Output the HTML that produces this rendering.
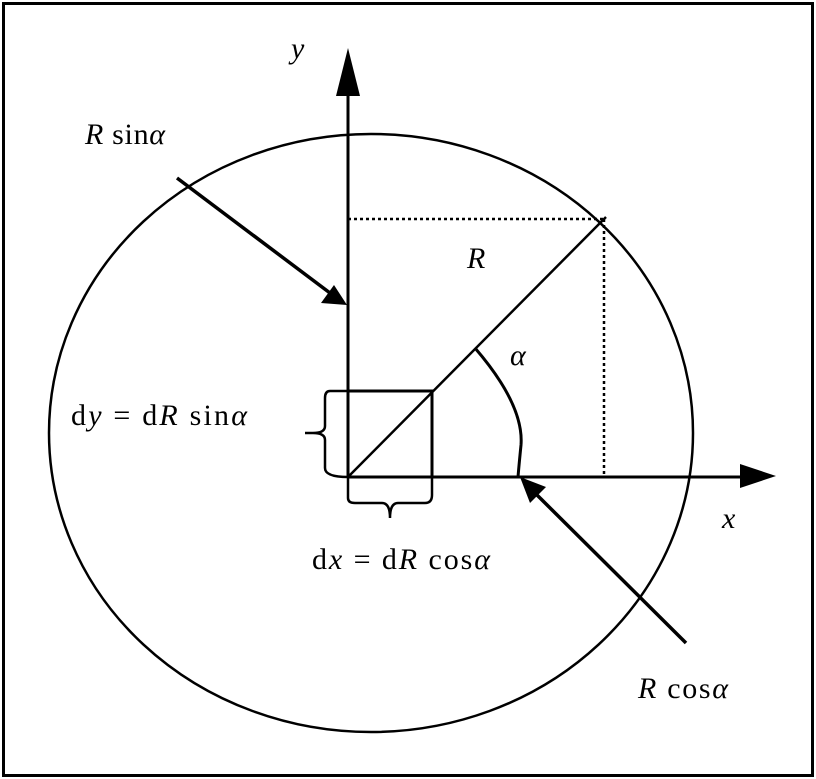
<!DOCTYPE html>
<html><head><style>
html,body{margin:0;padding:0;background:#fff;}
svg{display:block;}
text{font-family:"Liberation Serif",serif;font-size:30px;fill:#000;}
</style></head><body>
<svg width="816" height="779" viewBox="0 0 816 779">
<rect x="3.5" y="3.5" width="809" height="772" fill="none" stroke="#000" stroke-width="3"/>
<ellipse cx="371" cy="433" rx="322" ry="299" fill="none" stroke="#000" stroke-width="2.5"/>
<line x1="348" y1="477" x2="348" y2="90" stroke="#000" stroke-width="3"/>
<polygon points="348,48 336,96 360,96" fill="#000"/>
<line x1="348" y1="477" x2="745" y2="477" stroke="#000" stroke-width="3"/>
<polygon points="776,476 740,464 740,488" fill="#000"/>
<line x1="348" y1="219" x2="604" y2="219" stroke="#000" stroke-width="2.5" stroke-dasharray="3,3"/>
<line x1="604" y1="219" x2="604" y2="477" stroke="#000" stroke-width="2.5" stroke-dasharray="3,3"/>
<line x1="348" y1="477" x2="606" y2="217" stroke="#000" stroke-width="2.5"/>
<polyline points="348,391 432,391 432,477" fill="none" stroke="#000" stroke-width="3"/>
<path d="M475,348 Q524,405 521,445 Q519,465 518,477" fill="none" stroke="#000" stroke-width="3"/>
<path d="M348,391 L330,391 Q325,391 325,398 L325,426 Q325,433 313,433 L305,433 M313,433 Q325,433 325,440 L325,468 Q325,477 348,477" fill="none" stroke="#000" stroke-width="2.5"/>
<path d="M348,477 L348,498 Q348,503 355,503 L382,503 Q390,503 390,518 M390,518 Q390,503 398,503 L425,503 Q432,503 432,495 L432,477" fill="none" stroke="#000" stroke-width="2.5"/>
<line x1="177" y1="178" x2="330" y2="293" stroke="#000" stroke-width="3.5"/>
<polygon points="347,305 321,303 334,285" fill="#000"/>
<line x1="686" y1="643" x2="535" y2="493" stroke="#000" stroke-width="3.5"/>
<polygon points="520,477 530,503 546,487" fill="#000"/>
<text x="291" y="58" font-style="italic">y</text>
<text x="85" y="144" textLength="80" lengthAdjust="spacing"><tspan font-style="italic">R</tspan> sin<tspan font-style="italic">α</tspan></text>
<text x="467" y="268" font-style="italic">R</text>
<text x="510" y="365" font-style="italic">α</text>
<text x="71" y="425" textLength="176" lengthAdjust="spacing">d<tspan font-style="italic">y</tspan> = d<tspan font-style="italic">R</tspan> sin<tspan font-style="italic">α</tspan></text>
<text x="312" y="569" textLength="178" lengthAdjust="spacing">d<tspan font-style="italic">x</tspan> = d<tspan font-style="italic">R</tspan> cos<tspan font-style="italic">α</tspan></text>
<text x="722" y="528" font-style="italic">x</text>
<text x="638" y="698" textLength="90" lengthAdjust="spacing"><tspan font-style="italic">R</tspan> cos<tspan font-style="italic">α</tspan></text>
</svg>
</body></html>
